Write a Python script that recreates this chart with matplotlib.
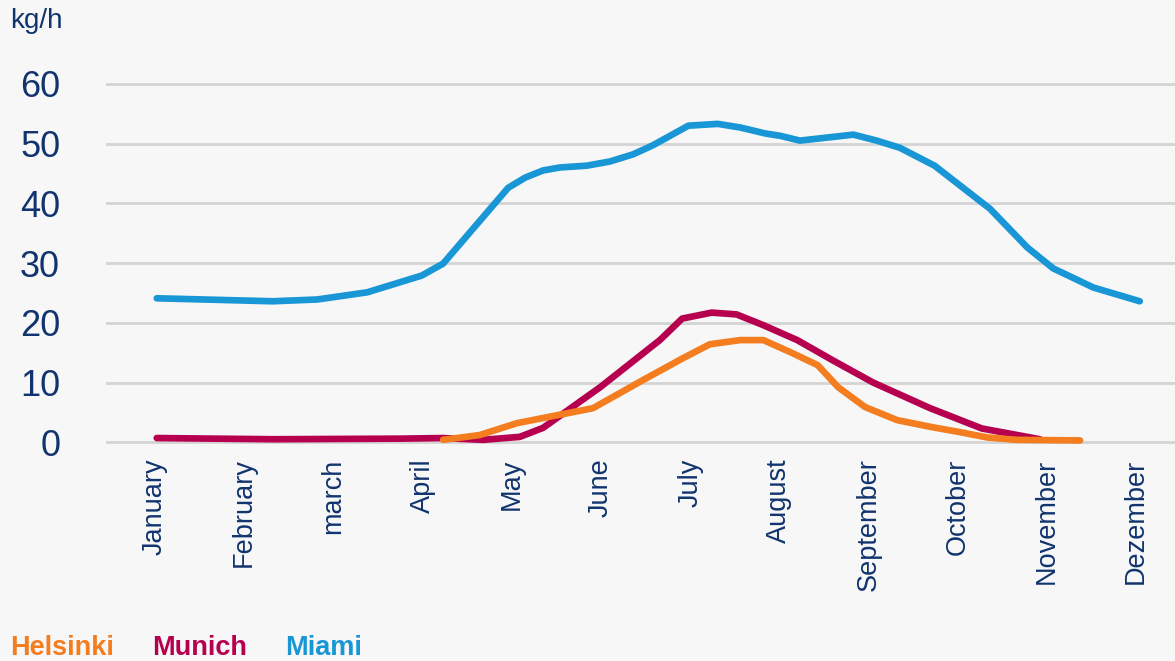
import matplotlib.pyplot as plt

plt.rcParams['font.family'] = ['Liberation Sans', 'DejaVu Sans']

navy = '#11346e'
bg = '#f7f7f7'

months = ['January', 'February', 'march', 'April', 'May', 'June', 'July',
          'August', 'September', 'October', 'November', 'Dezember']

# positions in month units (0 = January)
miami_x = [0.02, 1.32, 1.82, 2.38, 2.99, 3.23, 3.96, 4.15, 4.35, 4.54, 4.84,
           5.10, 5.36, 5.58, 5.98, 6.31, 6.56, 6.84, 7.01, 7.23, 7.53, 7.83,
           8.09, 8.35, 8.74, 9.36, 9.78, 10.07, 10.52, 11.04]
miami_y = [24.1, 23.6, 23.9, 25.1, 27.9, 29.9, 42.6, 44.3, 45.5, 46.0, 46.3,
           47.0, 48.2, 49.7, 53.0, 53.3, 52.7, 51.7, 51.3, 50.5, 51.0, 51.5,
           50.5, 49.3, 46.3, 39.1, 32.6, 29.1, 25.9, 23.6]

munich_x = [0.02, 1.32, 2.75, 3.23, 3.68, 4.09, 4.35, 4.99, 5.66, 5.91, 6.24,
            6.52, 6.82, 7.20, 7.60, 8.05, 8.69, 9.27, 9.92]
munich_y = [0.7, 0.5, 0.6, 0.7, 0.4, 0.9, 2.4, 9.2, 17.1, 20.7, 21.7,
            21.4, 19.6, 17.1, 13.7, 10.0, 5.7, 2.3, 0.5]

helsinki_x = [3.23, 3.64, 4.06, 4.91, 5.47, 5.91, 6.22, 6.56, 6.82, 7.12,
              7.43, 7.66, 7.96, 8.32, 8.72, 9.02, 9.33, 9.66, 10.37]
helsinki_y = [0.4, 1.2, 3.2, 5.7, 10.4, 14.0, 16.4, 17.1, 17.1, 15.1,
              12.9, 9.2, 5.9, 3.7, 2.5, 1.7, 0.8, 0.4, 0.3]

yticks = [0, 10, 20, 30, 40, 50, 60]

series = [
    ('Miami', miami_x, miami_y, '#1896d5'),
    ('Munich', munich_x, munich_y, '#b6004f'),
    ('Helsinki', helsinki_x, helsinki_y, '#f47d20'),
]

fig = plt.figure(figsize=(11.75, 6.61), dpi=100, facecolor=bg)
ax = fig.add_axes([0.0902, 0.3129, 0.9098, 0.5783])
ax.set_facecolor(bg)

for name, xs, ys, color in series:
    ax.plot(xs, ys, color=color, lw=4.8, solid_capstyle='round',
            solid_joinstyle='round', clip_on=False, zorder=3)

ax.set_xlim(-0.549, 11.435)
ax.set_ylim(-2, 62)
ax.set_yticks(yticks)
ax.set_yticklabels([str(v) for v in yticks], fontsize=26, color=navy)
ax.set_xticks(range(len(months)))
ax.set_xticklabels(months, rotation=90, fontsize=19.5, color=navy, va='top')
ax.tick_params(axis='both', length=0)
ax.tick_params(axis='y', pad=33)
ax.tick_params(axis='x', pad=3)
ax.grid(axis='y', color='#d4d4d4', lw=2)
ax.set_axisbelow(True)
for s in ax.spines.values():
    s.set_visible(False)

fig.text(0.0085, 0.957, 'kg/h', fontsize=20, color=navy, va='baseline')

# legend as coloured labels along the bottom
lx = [10, 152, 285]
for (name, xs, ys, color), x in zip(series[::-1], lx):
    fig.text(x / 1175, 1 - 655 / 661, name, fontsize=19.5, fontweight='bold',
             color=color, va='baseline')

fig.savefig('out.png', dpi=100, facecolor=bg)
